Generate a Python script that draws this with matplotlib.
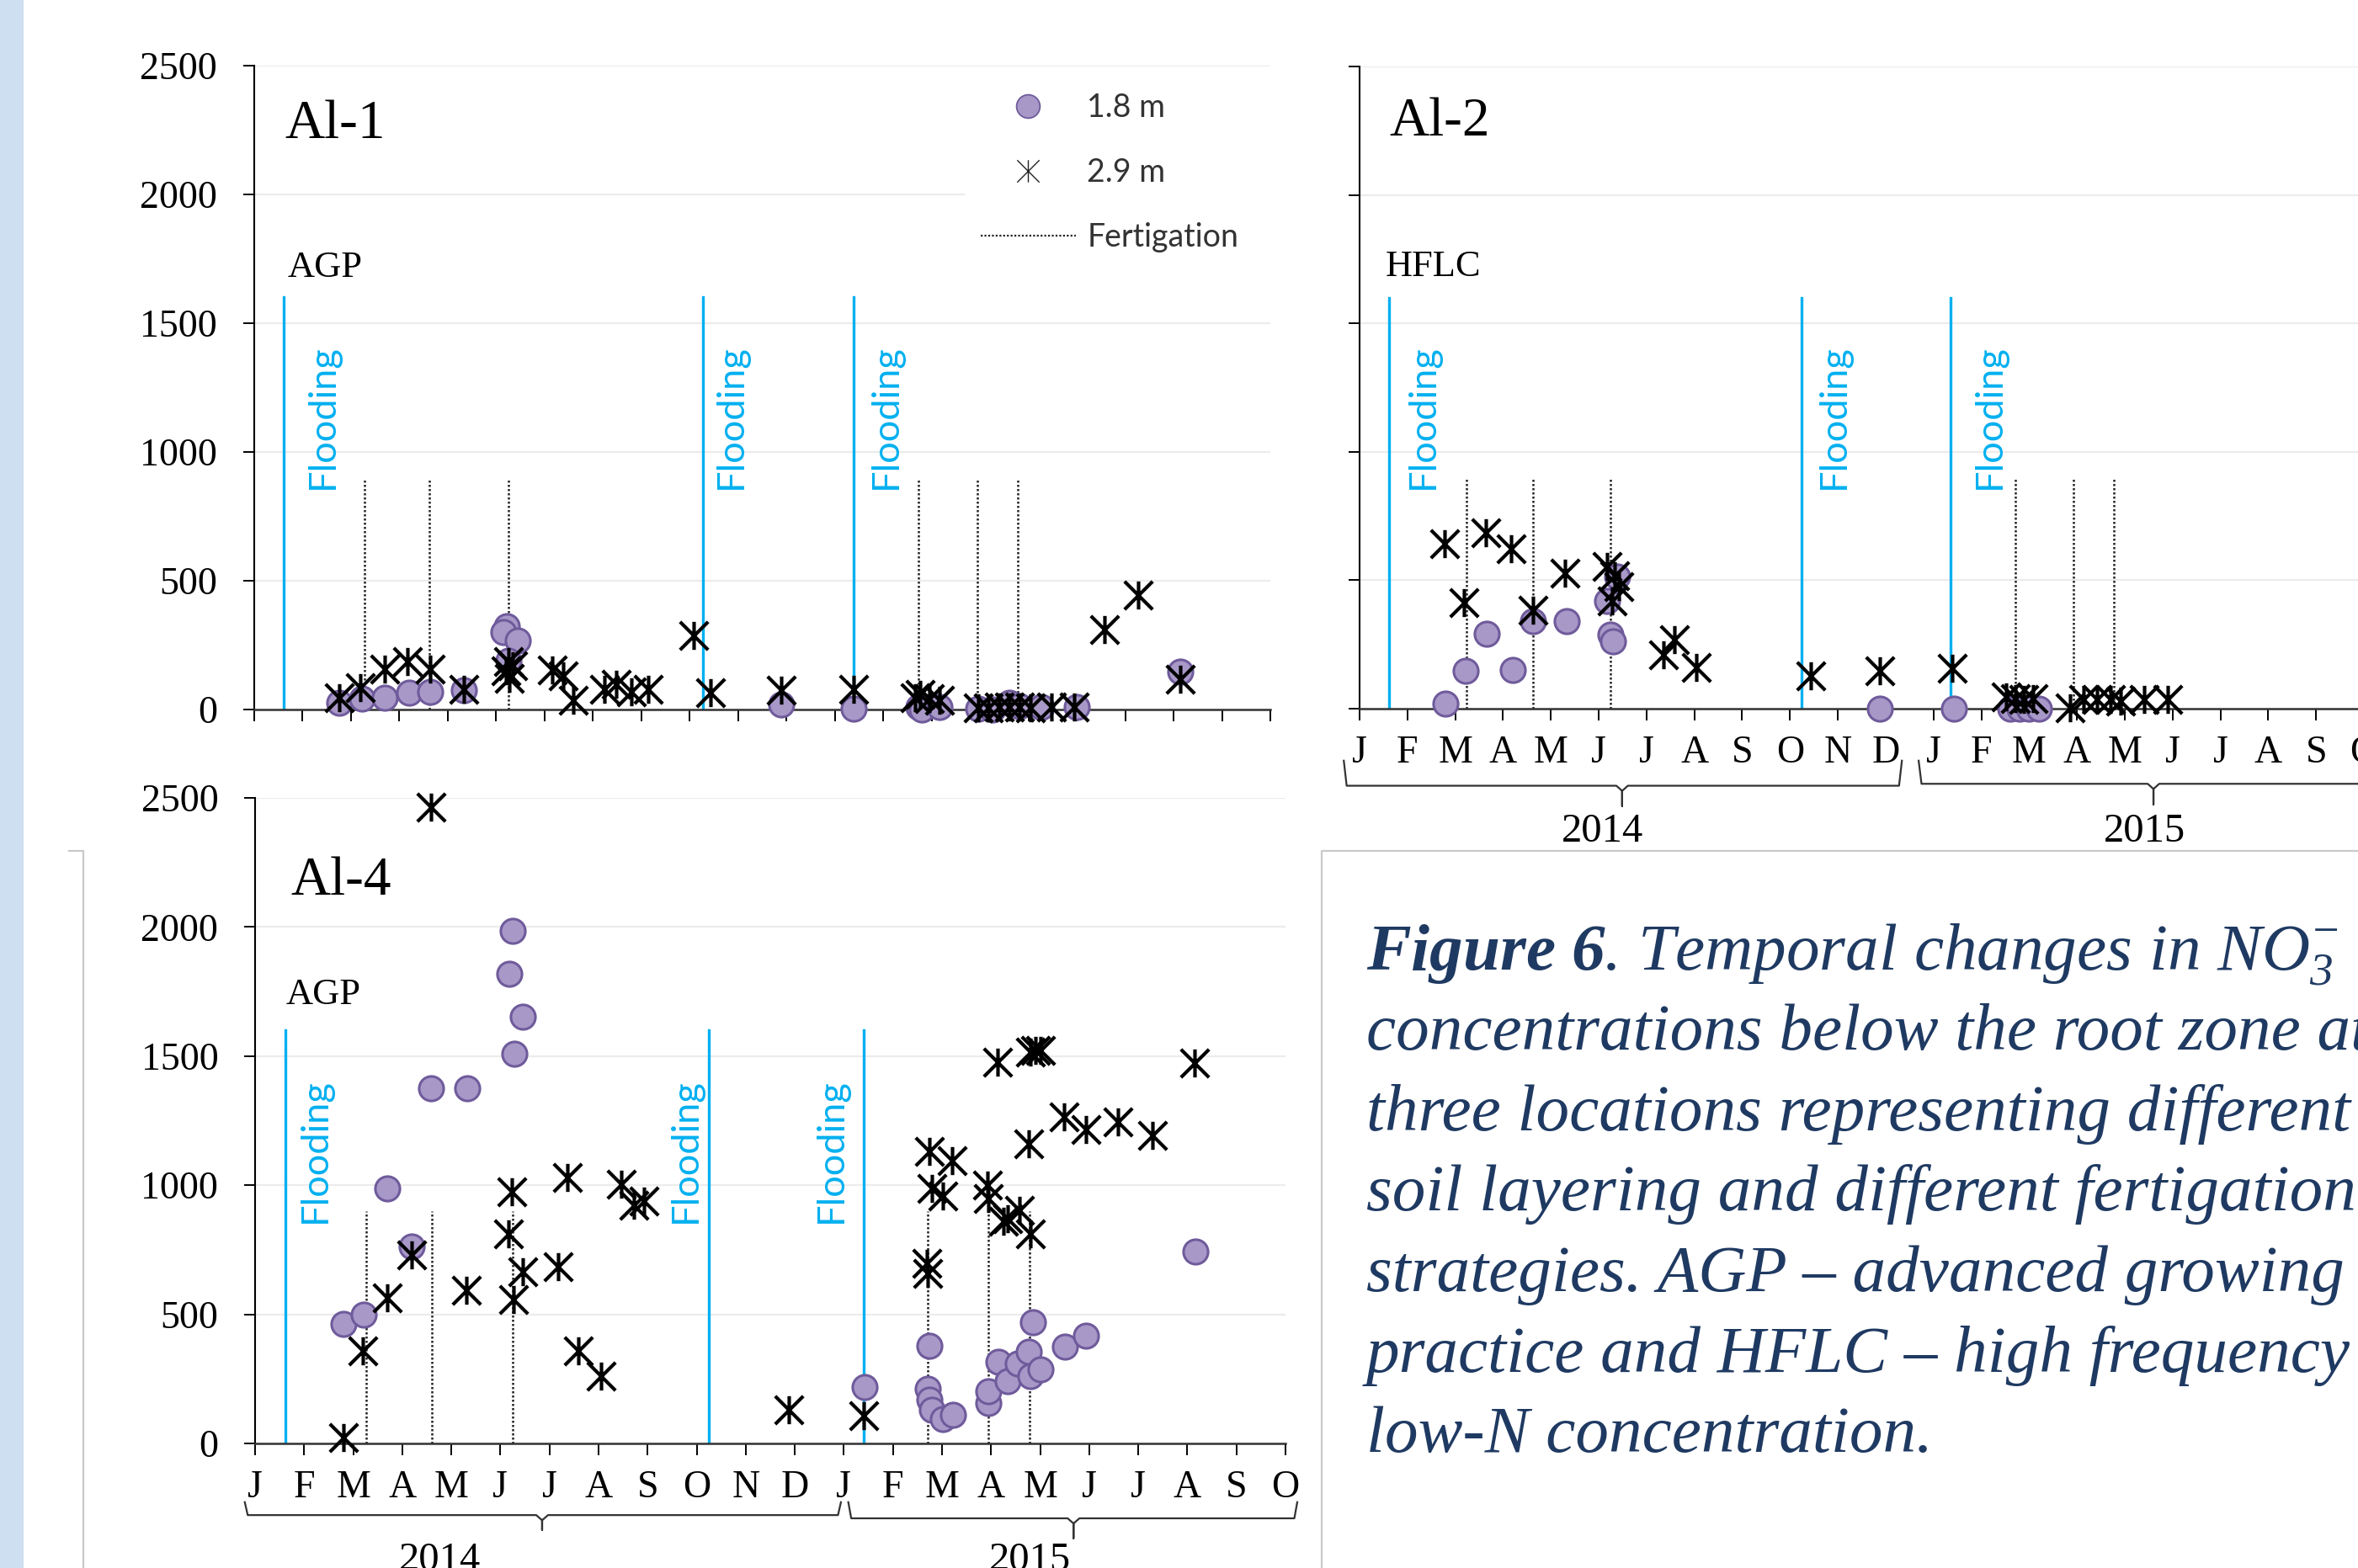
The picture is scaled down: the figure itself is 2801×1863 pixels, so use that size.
import matplotlib
matplotlib.use("Agg")
import matplotlib.pyplot as plt
from matplotlib.path import Path
from matplotlib.lines import Line2D
from matplotlib.patches import Rectangle
from matplotlib.transforms import blended_transform_factory

# x values are months since 1 Jan 2014 (0 = Jan 2014, 12 = Jan 2015)
month_labels = list("JFMAMJJASOND") + list("JFMAMJJASO")

# ---- Al-1 (AGP) ----
al1_circ_m = [1.76, 2.22, 2.70, 3.20, 3.63, 4.33, 5.22, 5.15, 5.44, 5.26, 10.89, 12.39,
              13.73, 13.80, 14.16, 14.96, 15.25, 15.61, 15.82, 16.26, 17.00, 19.14]
al1_circ_v = [25, 42, 47, 64, 69, 75, 322, 300, 267, 190, 20, 3,
              9, 0, 9, 3, 0, 25, 14, 9, 9, 146]
al1_star_m = [1.76, 2.19, 2.70, 3.17, 3.63, 4.33, 5.20, 5.28, 5.35, 5.25, 6.16, 6.38,
              6.59, 7.24, 7.49, 7.79, 8.15, 9.09, 9.43, 10.89, 12.39, 13.66, 13.77,
              13.95, 14.16, 14.96, 15.18, 15.39, 15.61, 15.82, 16.04, 16.47, 16.95,
              17.58, 18.27, 19.14]
al1_star_v = [47, 86, 157, 185, 157, 80, 150, 120, 170, 185, 152, 130,
              36, 80, 97, 69, 80, 289, 64, 75, 80, 47, 58,
              42, 36, 5, 5, 9, 9, 9, 5, 9, 9,
              311, 443, 119]
al1_flood = [0.61, 9.27, 12.38]
al1_fert = [2.28, 3.62, 5.25, 13.73, 14.94, 15.78]

# ---- Al-2 (HFLC) ----
al2_circ_m = [1.80, 2.22, 2.65, 3.20, 3.62, 4.33, 5.18, 5.39, 5.25, 5.29, 10.87, 12.42,
              13.60, 13.80, 14.00, 14.20]
al2_circ_v = [20, 149, 292, 151, 342, 342, 419, 513, 287, 261, 0, 0,
              0, 0, 0, 0]
al2_star_m = [1.77, 2.19, 2.64, 3.17, 3.62, 4.30, 5.17, 5.34, 5.28, 5.42, 6.36, 6.59,
              7.04, 9.44, 10.87, 12.40, 13.52, 13.71, 13.88, 14.09, 14.86, 15.14,
              15.42, 15.70, 15.91, 16.40, 16.90]
al2_star_v = [643, 412, 686, 623, 382, 529, 555, 518, 419, 474, 211, 270,
              160, 129, 149, 156, 46, 39, 35, 39, 2, 35,
              35, 35, 31, 35, 35]
al2_flood = [0.62, 9.24, 12.36]
al2_fert = [2.23, 3.62, 5.24, 13.71, 14.92, 15.77]

# ---- Al-4 (AGP) ----
al4_circ_m = [1.80, 2.22, 2.70, 3.19, 3.59, 4.33, 5.25, 5.18, 5.46, 5.29, 12.43, 13.74,
              13.70, 13.75, 13.79, 14.02, 14.22, 14.94, 14.95, 15.15, 15.34, 15.55,
              15.77, 15.80, 16.00, 15.85, 16.51, 16.94, 19.17]
al4_circ_v = [464, 500, 988, 764, 1374, 1374, 1984, 1818, 1652, 1510, 219, 379,
              213, 169, 129, 95, 110, 157, 202, 315, 242, 309,
              354, 261, 287, 469, 376, 416, 742]
al4_star_m = [1.80, 2.19, 2.70, 3.19, 3.59, 4.31, 5.17, 5.24, 5.27, 5.45, 6.18, 6.36,
              6.58, 7.06, 7.46, 7.72, 7.93, 10.88, 12.40, 13.69, 13.70, 13.74, 13.79,
              14.01, 14.20, 14.93, 14.94, 15.13, 15.26, 15.33, 15.57, 15.80, 15.76,
              15.80, 15.91, 16.00, 16.49, 16.93, 17.58, 18.29, 19.15]
al4_star_v = [24, 358, 564, 730, 2464, 594, 810, 974, 558, 664, 684, 1030,
              358, 260, 1004, 924, 938, 130, 107, 697, 657, 1131, 989,
              957, 1095, 1000, 949, 1478, 860, 871, 904, 811, 1160,
              1517, 1522, 1522, 1264, 1216, 1244, 1193, 1472]
al4_flood = [0.61, 9.25, 12.40]
al4_fert = [2.26, 3.61, 5.25, 13.71, 14.94, 15.78]

caption_lines = [
    "concentrations below the root zone at",
    "three locations representing different",
    "soil layering and different fertigation",
    "strategies. AGP \u2013 advanced growing",
    "practice and HFLC \u2013 high frequency",
    "low-N concentration.",
]

W, H = 2801, 1863
CIRC_FACE = "#a898c8"
CIRC_EDGE = "#6f5b9b"
FLOOD = "#00b0f0"
NAVY = "#1f3a62"

# Excel-style "star" marker: X with a vertical bar
star = Path([(0, -1), (0, 1), (-1, -1), (1, 1), (-1, 1), (1, -1)],
            [Path.MOVETO, Path.LINETO] * 3)

plt.rcParams.update({
    "font.family": ["Liberation Serif", "DejaVu Serif"],
    "mathtext.fontset": "custom",
    "mathtext.rm": "Liberation Serif:italic",
    "mathtext.it": "Liberation Serif:italic",
    "mathtext.bf": "Liberation Serif:italic:bold",
})


def fx(px):
    return px / W


def fy(py):
    return 1 - py / H


def panel(rect, cm, cv, sm, sv, flood, fert, flood_off, name, tag, name_xy, tag_xy,
          ylabels=True, xlabels=True):
    x0, y0, x1, y1 = rect
    ax = fig.add_axes([fx(x0), fy(y1), fx(x1 - x0), (y1 - y0) / H])
    ax.set_xlim(0, 21)
    ax.set_ylim(0, 2500)
    ax.set_xticks(range(22))
    ax.set_xticklabels(month_labels)
    ax.set_yticks(range(0, 2501, 500))
    ax.grid(axis="y", color="#ececec", lw=1.6)
    ax.set_axisbelow(True)
    for s in ["top", "right"]:
        ax.spines[s].set_visible(False)
    ax.spines["left"].set_linewidth(1.5)
    ax.spines["bottom"].set_linewidth(1.8)
    ax.spines["bottom"].set_color("#333333")
    ax.tick_params(axis="y", direction="out", length=9.5, width=1.4, pad=22,
                   labelsize=33, labelleft=ylabels)
    ax.tick_params(axis="x", direction="out", length=10, width=1.4, pad=13,
                   labelsize=33, labelbottom=xlabels)

    for m in flood:
        ax.plot([m, m], [0, 1600], color=FLOOD, lw=2.4, zorder=2)
    for m, off in zip(flood, flood_off):
        ax.text(m + off, 855, "Flooding", rotation=90, ha="center", va="bottom",
                color=FLOOD, fontsize=32.5, family="Lato")
    for m in fert:
        ax.plot([m, m], [0, 900], color="#222222", lw=1.8, ls=(0, (1, 1)), zorder=2)

    ax.plot(cm, cv, ls="none", marker="o", ms=21, mfc=CIRC_FACE, mec=CIRC_EDGE,
            mew=2.2, zorder=3, clip_on=False)
    ax.plot(sm, sv, ls="none", marker=star, ms=24, mfc="none", mec="black",
            mew=3.0, zorder=4, clip_on=False)

    ax.text(name_xy[0], name_xy[1], name, fontsize=47, va="baseline", ha="left")
    ax.text(tag_xy[0], tag_xy[1], tag, fontsize=32, va="baseline", ha="left")
    return ax


def year_braces(ax, spans, label_x, years, y_line, y_top, y_tip, y_text):
    tr = blended_transform_factory(ax.transData, ax.transAxes)
    for (a, b, mid), y_l, y_t in zip(spans, y_line, y_tip):
        xs = [a, a + 0.06, mid - 0.12, mid, mid, mid, mid + 0.12, b - 0.06, b]
        ys = [y_top, y_l, y_l, y_l - 0.008, y_t, y_l - 0.008, y_l, y_l, y_top]
        ax.plot(xs, ys, color="#333333", lw=1.6, transform=tr, clip_on=False)
    for x, yr in zip(label_x, years):
        ax.text(x, y_text, yr, transform=tr, ha="center", va="top", fontsize=35)


fig = plt.figure(figsize=(W / 100, H / 100), dpi=100)

# poster background pieces
fig.add_artist(Rectangle((0, 0), fx(28), 1, transform=fig.transFigure,
                         facecolor="#cddff0", edgecolor="none", zorder=0))
fig.add_artist(Line2D([fx(82), fx(99), fx(99)], [fy(1011), fy(1011), 0],
                      color="#c9c9c9", lw=1.6))
fig.add_artist(Line2D([fx(1570), fx(1570), 1], [0, fy(1011), fy(1011)],
                      color="#c9c9c9", lw=1.6))

ax1 = panel((302, 78, 1509, 843), al1_circ_m, al1_circ_v, al1_star_m, al1_star_v,
            al1_flood, al1_fert, [0.81, 0.59, 0.67], "Al-1", "AGP",
            (0.64, 2218), (0.69, 1679), xlabels=False)
ax2 = panel((1615, 79, 2808, 842), al2_circ_m, al2_circ_v, al2_star_m, al2_star_v,
            al2_flood, al2_fert, [0.70, 0.67, 0.81], "Al-2", "HFLC",
            (0.62, 2231), (0.55, 1684), ylabels=False)
ax4 = panel((303, 948, 1527, 1715), al4_circ_m, al4_circ_v, al4_star_m, al4_star_v,
            al4_flood, al4_fert, [0.61, -0.48, -0.65], "Al-4", "AGP",
            (0.72, 2125), (0.62, 1700))

year_braces(ax2, [(-0.33, 11.34, 5.49), (11.69, 21.6, 16.6)], [5.07, 16.41],
            ["2014", "2015"], [-0.120, -0.117], -0.081, [-0.152, -0.149], -0.162)
year_braces(ax4, [(-0.21, 11.94, 5.85), (12.09, 21.24, 16.68)], [3.77, 15.8],
            ["2014", "2015"], [-0.111, -0.116], -0.091, [-0.134, -0.147], -0.153)

# white backing of the legend box (hides the 2000 gridline as in the poster)
ax1.add_patch(Rectangle((fx(1146), fy(310)), fx(1509 - 1146), (310 - 95) / H,
                        transform=fig.transFigure, facecolor="white",
                        edgecolor="none", zorder=1))

# legend of Al-1
h1 = Line2D([], [], ls="none", marker="o", ms=20, mfc=CIRC_FACE, mec=CIRC_EDGE, mew=1.3)
h2 = Line2D([], [], ls="none", marker=star, ms=19, mfc="none", mec="#222222", mew=1.0)
h3 = Line2D([], [], color="#222222", lw=1.6, ls=(0, (1, 1)))
ax1.legend([h1, h2, h3], ["1.8 m", "2.9 m", "Fertigation"], loc="center left",
           bbox_to_anchor=(fx(1150), fy(205)), bbox_transform=fig.transFigure,
           prop={"family": "Lato", "size": 27}, labelcolor="#333333",
           frameon=True, facecolor="white", edgecolor="none", framealpha=1,
           fancybox=False, handlelength=3.0, handletextpad=0.37, labelspacing=1.1,
           borderpad=0.4, borderaxespad=0)

# caption
fig.text(fx(1623), fy(1152), r"$\mathbf{Figure\ 6}$. Temporal changes in NO$_{3}^{-}$",
         fontsize=57, style="italic", color=NAVY, va="baseline")
for i, line in enumerate(caption_lines):
    fig.text(fx(1623), fy(1247 + i * 95.7), line, fontsize=57, style="italic",
             color=NAVY, va="baseline")

fig.savefig("out.png", dpi=100)
